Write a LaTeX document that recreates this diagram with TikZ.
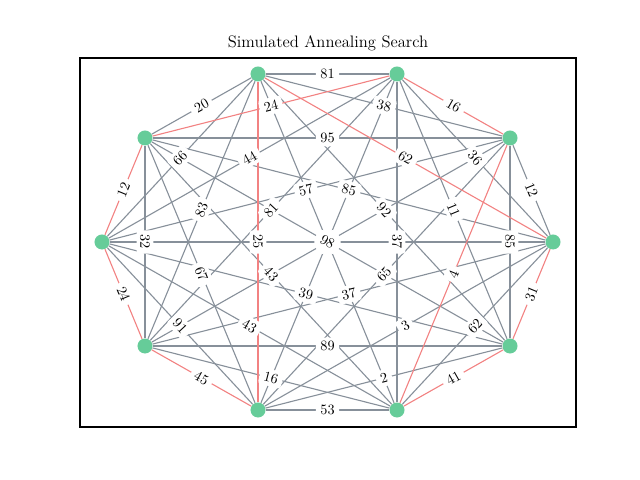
\documentclass[tikz,border=0pt]{standalone}
\definecolor{edgegray}{RGB}{135,144,154}
\definecolor{edgered}{RGB}{242,130,130}
\definecolor{nodegreen}{RGB}{102,204,153}
\begin{document}
\begin{tikzpicture}[x=0.01in,y=-0.01in,
  vtx/.style={circle,fill=nodegreen,draw=none,minimum size=0.15in,inner sep=0},
  gedge/.style={draw=edgegray,line width=0.8pt},
  redge/.style={draw=edgered,line width=0.8pt},
  elabel/.style={fill=white,rounded corners=2pt,inner xsep=3.2pt,inner ysep=2.5pt,font=\fontsize{10.3}{12}\selectfont,sloped,midway}]
\useasboundingbox (0,0) rectangle (640,480);
\draw[line width=0.8pt] (80,58) rectangle (576,427);
\node (title) at (328,43) {\fontsize{12}{14}\selectfont Simulated Annealing Search};
\node[vtx] (n0) at (553,242) {};
\node[vtx] (n1) at (510,138) {};
\node[vtx] (n2) at (397,74) {};
\node[vtx] (n3) at (258,74) {};
\node[vtx] (n4) at (145,138) {};
\node[vtx] (n5) at (102,242) {};
\node[vtx] (n6) at (145,346) {};
\node[vtx] (n7) at (258,410) {};
\node[vtx] (n8) at (397,410) {};
\node[vtx] (n9) at (510,346) {};
\foreach \a/\b in {0/1,0/2,0/4,0/5,0/6,0/7,0/8,1/3,1/4,1/5,1/6,1/7,1/9,2/3,2/5,2/6,2/7,2/8,2/9,3/4,3/5,3/6,3/8,3/9,4/6,4/7,4/8,4/9,5/7,5/8,5/9,6/8,6/9,7/8,7/9}
  \draw[gedge] (n\a) -- (n\b);
\foreach \a/\b in {4/5,5/6,6/7,3/7,0/3,0/9,8/9,1/8,1/2,2/4}
  \draw[redge] (n\a) -- (n\b);
\foreach \a/\b in {0/5,1/6,2/7,3/8}
  \path (n\a) -- (n\b) node[elabel]{\phantom{00}};
\foreach \a/\b/\l in {0/1/12,0/2/36,0/4/85,0/6/37,0/7/3,0/8/62,1/3/38,1/4/95,1/5/57,1/7/65,1/9/85,2/3/81,2/5/44,2/6/81,2/8/37,2/9/11,3/4/20,3/5/66,3/6/83,3/9/92,4/6/32,4/7/67,4/8/43,4/9/98,5/7/91,5/8/43,5/9/39,6/8/16,6/9/89,7/8/53,7/9/2,4/5/12,5/6/24,6/7/45,3/7/25,0/3/62,0/9/31,8/9/41,1/8/4,1/2/16,2/4/24}
  \path (n\a) -- (n\b) node[elabel]{\l};
\end{tikzpicture}
\end{document}
